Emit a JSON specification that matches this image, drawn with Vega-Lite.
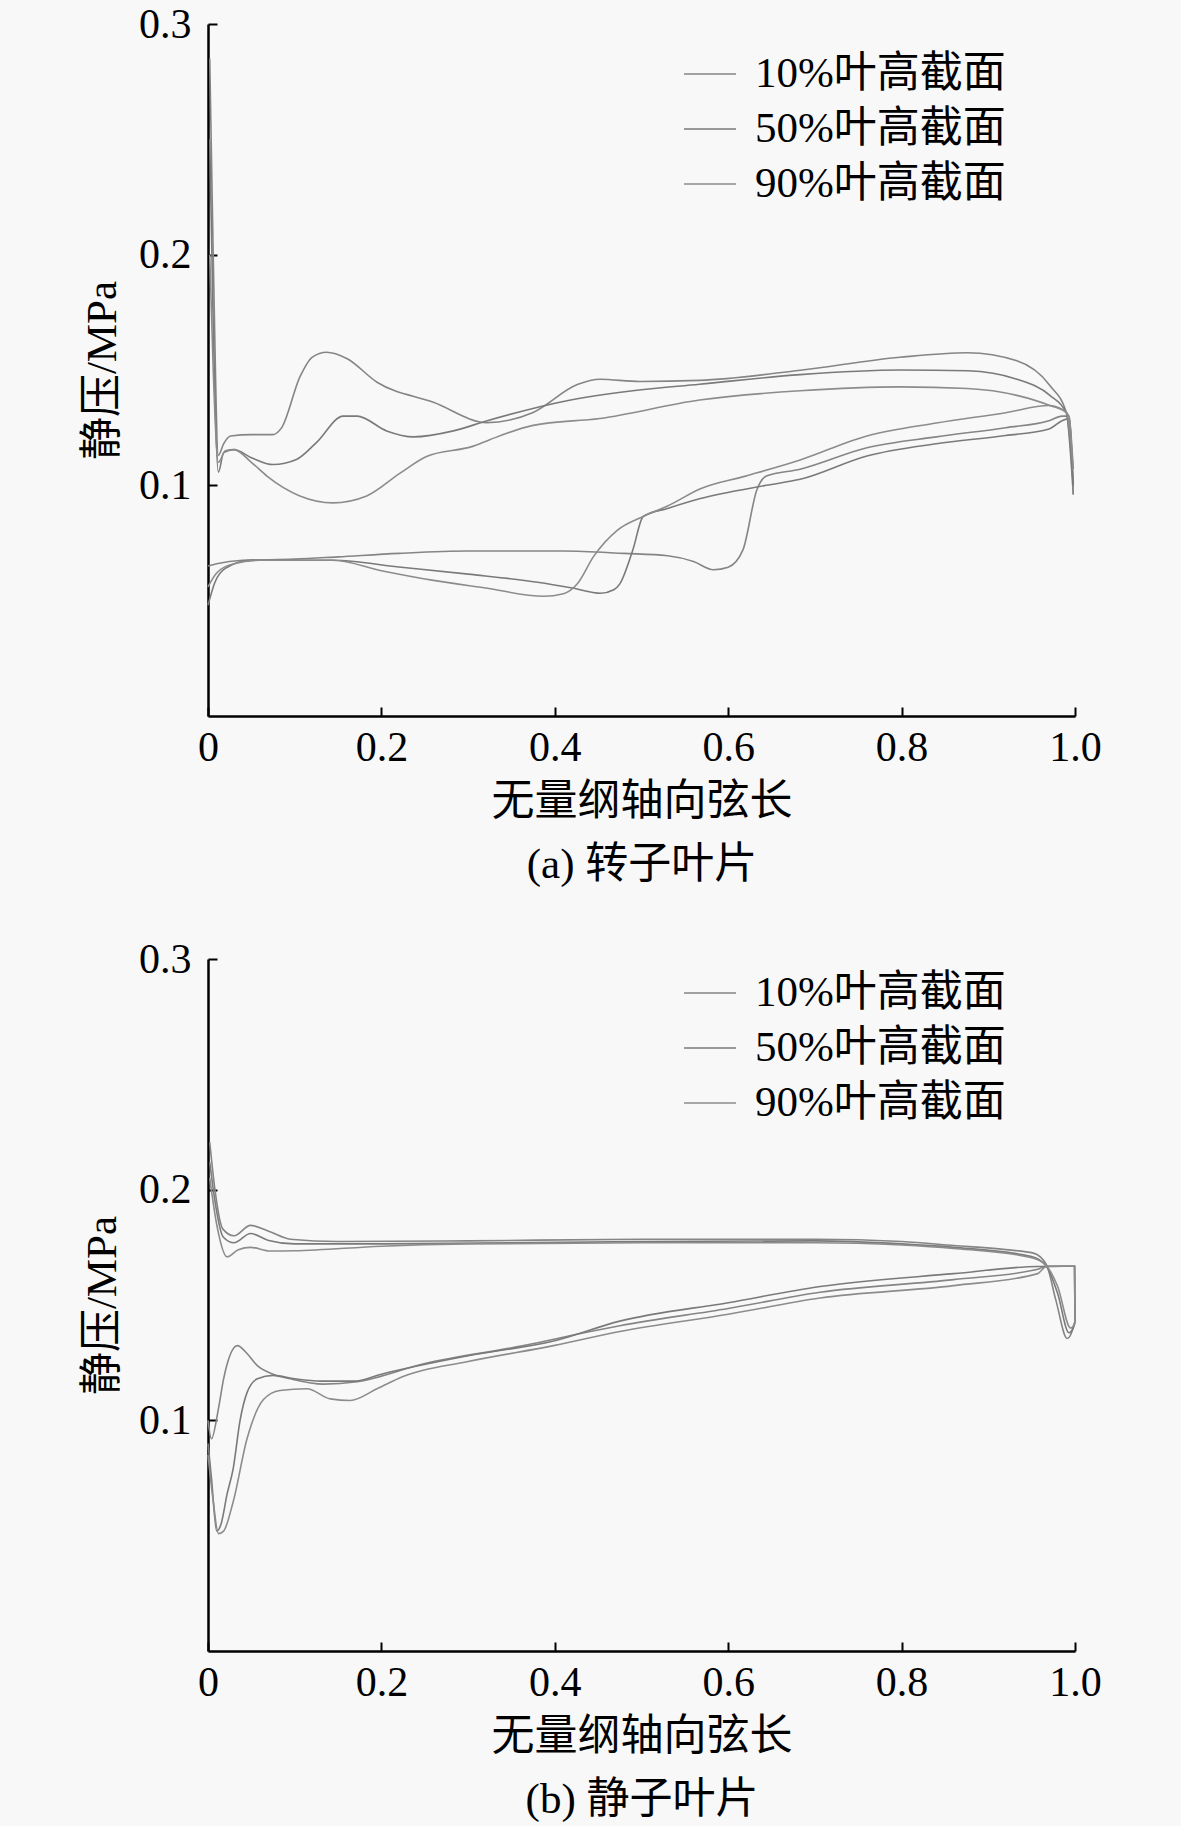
{
  "$schema": "https://vega.github.io/schema/vega-lite/v6.json",
  "background": "#f8f8f8",
  "padding": {"left": 81, "top": 3, "right": 81, "bottom": 5},
  "spacing": 52,
  "datasets": {
    "rotor": [
      {"series": "10%叶高截面", "side": "ps", "x": 0.002, "p": 0.285},
      {"series": "10%叶高截面", "side": "ps", "x": 0.006, "p": 0.2},
      {"series": "10%叶高截面", "side": "ps", "x": 0.012, "p": 0.113},
      {"series": "10%叶高截面", "side": "ps", "x": 0.018, "p": 0.118},
      {"series": "10%叶高截面", "side": "ps", "x": 0.026, "p": 0.1214},
      {"series": "10%叶高截面", "side": "ps", "x": 0.05, "p": 0.122},
      {"series": "10%叶高截面", "side": "ps", "x": 0.075, "p": 0.122},
      {"series": "10%叶高截面", "side": "ps", "x": 0.085, "p": 0.125},
      {"series": "10%叶高截面", "side": "ps", "x": 0.106, "p": 0.147},
      {"series": "10%叶高截面", "side": "ps", "x": 0.12, "p": 0.1555},
      {"series": "10%叶高截面", "side": "ps", "x": 0.137, "p": 0.1577},
      {"series": "10%叶高截面", "side": "ps", "x": 0.16, "p": 0.155},
      {"series": "10%叶高截面", "side": "ps", "x": 0.195, "p": 0.1447},
      {"series": "10%叶高截面", "side": "ps", "x": 0.26, "p": 0.136},
      {"series": "10%叶高截面", "side": "ps", "x": 0.322, "p": 0.1272},
      {"series": "10%叶高截面", "side": "ps", "x": 0.375, "p": 0.1316},
      {"series": "10%叶高截面", "side": "ps", "x": 0.426, "p": 0.1437},
      {"series": "10%叶高截面", "side": "ps", "x": 0.452, "p": 0.146},
      {"series": "10%叶高截面", "side": "ps", "x": 0.498, "p": 0.145},
      {"series": "10%叶高截面", "side": "ps", "x": 0.567, "p": 0.1455},
      {"series": "10%叶高截面", "side": "ps", "x": 0.683, "p": 0.1499},
      {"series": "10%叶高截面", "side": "ps", "x": 0.798, "p": 0.1555},
      {"series": "10%叶高截面", "side": "ps", "x": 0.876, "p": 0.1575},
      {"series": "10%叶高截面", "side": "ps", "x": 0.933, "p": 0.154},
      {"series": "10%叶高截面", "side": "ps", "x": 0.971, "p": 0.1433},
      {"series": "10%叶高截面", "side": "ps", "x": 0.99, "p": 0.1315},
      {"series": "10%叶高截面", "side": "ps", "x": 0.998, "p": 0.096},
      {"series": "10%叶高截面", "side": "ss", "x": 0.0, "p": 0.065},
      {"series": "10%叶高截面", "side": "ss", "x": 0.01, "p": 0.066},
      {"series": "10%叶高截面", "side": "ss", "x": 0.04, "p": 0.0675},
      {"series": "10%叶高截面", "side": "ss", "x": 0.1, "p": 0.068},
      {"series": "10%叶高截面", "side": "ss", "x": 0.15, "p": 0.069},
      {"series": "10%叶高截面", "side": "ss", "x": 0.22, "p": 0.0705},
      {"series": "10%叶高截面", "side": "ss", "x": 0.3, "p": 0.0715},
      {"series": "10%叶高截面", "side": "ss", "x": 0.41, "p": 0.0715},
      {"series": "10%叶高截面", "side": "ss", "x": 0.48, "p": 0.0705},
      {"series": "10%叶高截面", "side": "ss", "x": 0.53, "p": 0.0695},
      {"series": "10%叶高截面", "side": "ss", "x": 0.56, "p": 0.067},
      {"series": "10%叶高截面", "side": "ss", "x": 0.583, "p": 0.0634},
      {"series": "10%叶高截面", "side": "ss", "x": 0.6, "p": 0.0645},
      {"series": "10%叶高截面", "side": "ss", "x": 0.617, "p": 0.072},
      {"series": "10%叶高截面", "side": "ss", "x": 0.633, "p": 0.098},
      {"series": "10%叶高截面", "side": "ss", "x": 0.644, "p": 0.104},
      {"series": "10%叶高截面", "side": "ss", "x": 0.683, "p": 0.107},
      {"series": "10%叶高截面", "side": "ss", "x": 0.76, "p": 0.1163},
      {"series": "10%叶高截面", "side": "ss", "x": 0.84, "p": 0.121},
      {"series": "10%叶高截面", "side": "ss", "x": 0.92, "p": 0.125},
      {"series": "10%叶高截面", "side": "ss", "x": 0.97, "p": 0.128},
      {"series": "10%叶高截面", "side": "ss", "x": 0.985, "p": 0.13},
      {"series": "10%叶高截面", "side": "ss", "x": 0.993, "p": 0.13},
      {"series": "10%叶高截面", "side": "ss", "x": 0.998, "p": 0.096},
      {"series": "50%叶高截面", "side": "ps", "x": 0.002, "p": 0.25},
      {"series": "50%叶高截面", "side": "ps", "x": 0.006, "p": 0.17},
      {"series": "50%叶高截面", "side": "ps", "x": 0.012, "p": 0.1057},
      {"series": "50%叶高截面", "side": "ps", "x": 0.018, "p": 0.1142},
      {"series": "50%叶高截面", "side": "ps", "x": 0.03, "p": 0.1155},
      {"series": "50%叶高截面", "side": "ps", "x": 0.05, "p": 0.112},
      {"series": "50%叶高截面", "side": "ps", "x": 0.075, "p": 0.109},
      {"series": "50%叶高截面", "side": "ps", "x": 0.102, "p": 0.1112},
      {"series": "50%叶高截面", "side": "ps", "x": 0.125, "p": 0.1185},
      {"series": "50%叶高截面", "side": "ps", "x": 0.156, "p": 0.13},
      {"series": "50%叶高截面", "side": "ps", "x": 0.172, "p": 0.13},
      {"series": "50%叶高截面", "side": "ps", "x": 0.206, "p": 0.1236},
      {"series": "50%叶高截面", "side": "ps", "x": 0.237, "p": 0.121},
      {"series": "50%叶高截面", "side": "ps", "x": 0.283, "p": 0.1236},
      {"series": "50%叶高截面", "side": "ps", "x": 0.322, "p": 0.128},
      {"series": "50%叶高截面", "side": "ps", "x": 0.414, "p": 0.1367},
      {"series": "50%叶高截面", "side": "ps", "x": 0.49, "p": 0.141},
      {"series": "50%叶高截面", "side": "ps", "x": 0.567, "p": 0.1438},
      {"series": "50%叶高截面", "side": "ps", "x": 0.683, "p": 0.148},
      {"series": "50%叶高截面", "side": "ps", "x": 0.798, "p": 0.15},
      {"series": "50%叶高截面", "side": "ps", "x": 0.876, "p": 0.1497},
      {"series": "50%叶高截面", "side": "ps", "x": 0.933, "p": 0.146},
      {"series": "50%叶高截面", "side": "ps", "x": 0.971, "p": 0.139},
      {"series": "50%叶高截面", "side": "ps", "x": 0.99, "p": 0.1315},
      {"series": "50%叶高截面", "side": "ps", "x": 0.998, "p": 0.1},
      {"series": "50%叶高截面", "side": "ss", "x": 0.0, "p": 0.048},
      {"series": "50%叶高截面", "side": "ss", "x": 0.008, "p": 0.058},
      {"series": "50%叶高截面", "side": "ss", "x": 0.02, "p": 0.064},
      {"series": "50%叶高截面", "side": "ss", "x": 0.05, "p": 0.0675},
      {"series": "50%叶高截面", "side": "ss", "x": 0.144, "p": 0.0675},
      {"series": "50%叶高截面", "side": "ss", "x": 0.22, "p": 0.0646},
      {"series": "50%叶高截面", "side": "ss", "x": 0.3, "p": 0.0615},
      {"series": "50%叶高截面", "side": "ss", "x": 0.38, "p": 0.058},
      {"series": "50%叶高截面", "side": "ss", "x": 0.42, "p": 0.0555},
      {"series": "50%叶高截面", "side": "ss", "x": 0.453, "p": 0.0532},
      {"series": "50%叶高截面", "side": "ss", "x": 0.468, "p": 0.0547},
      {"series": "50%叶高截面", "side": "ss", "x": 0.475, "p": 0.0573},
      {"series": "50%叶高截面", "side": "ss", "x": 0.49, "p": 0.072},
      {"series": "50%叶高截面", "side": "ss", "x": 0.502, "p": 0.0865},
      {"series": "50%叶高截面", "side": "ss", "x": 0.53, "p": 0.09},
      {"series": "50%叶高截面", "side": "ss", "x": 0.568, "p": 0.0943},
      {"series": "50%叶高截面", "side": "ss", "x": 0.644, "p": 0.1},
      {"series": "50%叶高截面", "side": "ss", "x": 0.683, "p": 0.1026},
      {"series": "50%叶高截面", "side": "ss", "x": 0.76, "p": 0.1127},
      {"series": "50%叶高截面", "side": "ss", "x": 0.84, "p": 0.118},
      {"series": "50%叶高截面", "side": "ss", "x": 0.92, "p": 0.1216},
      {"series": "50%叶高截面", "side": "ss", "x": 0.97, "p": 0.1244},
      {"series": "50%叶高截面", "side": "ss", "x": 0.985, "p": 0.128},
      {"series": "50%叶高截面", "side": "ss", "x": 0.993, "p": 0.129},
      {"series": "50%叶高截面", "side": "ss", "x": 0.998, "p": 0.1},
      {"series": "90%叶高截面", "side": "ps", "x": 0.002, "p": 0.2},
      {"series": "90%叶高截面", "side": "ps", "x": 0.006, "p": 0.15},
      {"series": "90%叶高截面", "side": "ps", "x": 0.012, "p": 0.11},
      {"series": "90%叶高截面", "side": "ps", "x": 0.02, "p": 0.115},
      {"series": "90%叶高截面", "side": "ps", "x": 0.03, "p": 0.1155},
      {"series": "90%叶高截面", "side": "ps", "x": 0.05, "p": 0.11},
      {"series": "90%叶高截面", "side": "ps", "x": 0.068, "p": 0.104},
      {"series": "90%叶高截面", "side": "ps", "x": 0.106, "p": 0.0954},
      {"series": "90%叶高截面", "side": "ps", "x": 0.144, "p": 0.0924},
      {"series": "90%叶高截面", "side": "ps", "x": 0.183, "p": 0.0954},
      {"series": "90%叶高截面", "side": "ps", "x": 0.222, "p": 0.1054},
      {"series": "90%叶高截面", "side": "ps", "x": 0.252, "p": 0.1125},
      {"series": "90%叶高截面", "side": "ps", "x": 0.306, "p": 0.117},
      {"series": "90%叶高截面", "side": "ps", "x": 0.325, "p": 0.1198},
      {"series": "90%叶高截面", "side": "ps", "x": 0.375, "p": 0.126},
      {"series": "90%叶高截面", "side": "ps", "x": 0.452, "p": 0.129},
      {"series": "90%叶高截面", "side": "ps", "x": 0.567, "p": 0.137},
      {"series": "90%叶高截面", "side": "ps", "x": 0.683, "p": 0.141},
      {"series": "90%叶高截面", "side": "ps", "x": 0.798, "p": 0.1427},
      {"series": "90%叶高截面", "side": "ps", "x": 0.876, "p": 0.142},
      {"series": "90%叶高截面", "side": "ps", "x": 0.933, "p": 0.139},
      {"series": "90%叶高截面", "side": "ps", "x": 0.971, "p": 0.1346},
      {"series": "90%叶高截面", "side": "ps", "x": 0.99, "p": 0.1315},
      {"series": "90%叶高截面", "side": "ps", "x": 0.998, "p": 0.107},
      {"series": "90%叶高截面", "side": "ss", "x": 0.0, "p": 0.056},
      {"series": "90%叶高截面", "side": "ss", "x": 0.01, "p": 0.062},
      {"series": "90%叶高截面", "side": "ss", "x": 0.03, "p": 0.066},
      {"series": "90%叶高截面", "side": "ss", "x": 0.06, "p": 0.0675},
      {"series": "90%叶高截面", "side": "ss", "x": 0.144, "p": 0.0675},
      {"series": "90%叶高截面", "side": "ss", "x": 0.2, "p": 0.063},
      {"series": "90%叶高截面", "side": "ss", "x": 0.26, "p": 0.0588},
      {"series": "90%叶高截面", "side": "ss", "x": 0.32, "p": 0.0555},
      {"series": "90%叶高截面", "side": "ss", "x": 0.387, "p": 0.0519},
      {"series": "90%叶高截面", "side": "ss", "x": 0.41, "p": 0.053},
      {"series": "90%叶高截面", "side": "ss", "x": 0.426, "p": 0.0573},
      {"series": "90%叶高截面", "side": "ss", "x": 0.445, "p": 0.0693},
      {"series": "90%叶高截面", "side": "ss", "x": 0.472, "p": 0.0805},
      {"series": "90%叶高截面", "side": "ss", "x": 0.502, "p": 0.0865},
      {"series": "90%叶高截面", "side": "ss", "x": 0.53, "p": 0.091},
      {"series": "90%叶高截面", "side": "ss", "x": 0.568, "p": 0.0985},
      {"series": "90%叶高截面", "side": "ss", "x": 0.62, "p": 0.104},
      {"series": "90%叶高截面", "side": "ss", "x": 0.683, "p": 0.111},
      {"series": "90%叶高截面", "side": "ss", "x": 0.76, "p": 0.1214},
      {"series": "90%叶高截面", "side": "ss", "x": 0.84, "p": 0.127},
      {"series": "90%叶高截面", "side": "ss", "x": 0.92, "p": 0.1315},
      {"series": "90%叶高截面", "side": "ss", "x": 0.97, "p": 0.1346},
      {"series": "90%叶高截面", "side": "ss", "x": 0.985, "p": 0.133},
      {"series": "90%叶高截面", "side": "ss", "x": 0.993, "p": 0.13},
      {"series": "90%叶高截面", "side": "ss", "x": 0.998, "p": 0.107}
    ],
    "stator": [
      {"series": "10%叶高截面", "side": "ps", "x": 0.002, "p": 0.2206},
      {"series": "10%叶高截面", "side": "ps", "x": 0.008, "p": 0.2},
      {"series": "10%叶高截面", "side": "ps", "x": 0.017, "p": 0.183},
      {"series": "10%叶高截面", "side": "ps", "x": 0.03, "p": 0.18},
      {"series": "10%叶高截面", "side": "ps", "x": 0.049, "p": 0.1845},
      {"series": "10%叶高截面", "side": "ps", "x": 0.07, "p": 0.182},
      {"series": "10%叶高截面", "side": "ps", "x": 0.095, "p": 0.1785},
      {"series": "10%叶高截面", "side": "ps", "x": 0.15, "p": 0.1775},
      {"series": "10%叶高截面", "side": "ps", "x": 0.3, "p": 0.1778},
      {"series": "10%叶高截面", "side": "ps", "x": 0.5, "p": 0.1785},
      {"series": "10%叶高截面", "side": "ps", "x": 0.7, "p": 0.1785},
      {"series": "10%叶高截面", "side": "ps", "x": 0.8, "p": 0.1775},
      {"series": "10%叶高截面", "side": "ps", "x": 0.86, "p": 0.1758},
      {"series": "10%叶高截面", "side": "ps", "x": 0.92, "p": 0.174},
      {"series": "10%叶高截面", "side": "ps", "x": 0.952, "p": 0.1725},
      {"series": "10%叶高截面", "side": "ps", "x": 0.967, "p": 0.1675},
      {"series": "10%叶高截面", "side": "ps", "x": 0.978, "p": 0.152},
      {"series": "10%叶高截面", "side": "ps", "x": 0.991, "p": 0.1355},
      {"series": "10%叶高截面", "side": "ps", "x": 0.996, "p": 0.138},
      {"series": "10%叶高截面", "side": "ps", "x": 1.0, "p": 0.143},
      {"series": "10%叶高截面", "side": "ss", "x": 0.0, "p": 0.1},
      {"series": "10%叶高截面", "side": "ss", "x": 0.004, "p": 0.092},
      {"series": "10%叶高截面", "side": "ss", "x": 0.012, "p": 0.105},
      {"series": "10%叶高截面", "side": "ss", "x": 0.018, "p": 0.118},
      {"series": "10%叶高截面", "side": "ss", "x": 0.034, "p": 0.1324},
      {"series": "10%叶高截面", "side": "ss", "x": 0.045, "p": 0.129},
      {"series": "10%叶高截面", "side": "ss", "x": 0.0566, "p": 0.1238},
      {"series": "10%叶高截面", "side": "ss", "x": 0.075, "p": 0.12},
      {"series": "10%叶高截面", "side": "ss", "x": 0.095, "p": 0.118},
      {"series": "10%叶高截面", "side": "ss", "x": 0.133, "p": 0.1157},
      {"series": "10%叶高截面", "side": "ss", "x": 0.172, "p": 0.1167},
      {"series": "10%叶高截面", "side": "ss", "x": 0.249, "p": 0.1245},
      {"series": "10%叶高截面", "side": "ss", "x": 0.364, "p": 0.1324},
      {"series": "10%叶高截面", "side": "ss", "x": 0.441, "p": 0.1385},
      {"series": "10%叶高截面", "side": "ss", "x": 0.475, "p": 0.141},
      {"series": "10%叶高截面", "side": "ss", "x": 0.6, "p": 0.1485},
      {"series": "10%叶高截面", "side": "ss", "x": 0.706, "p": 0.1555},
      {"series": "10%叶高截面", "side": "ss", "x": 0.86, "p": 0.161},
      {"series": "10%叶高截面", "side": "ss", "x": 0.957, "p": 0.1655},
      {"series": "10%叶高截面", "side": "ss", "x": 0.967, "p": 0.1668},
      {"series": "10%叶高截面", "side": "ss", "x": 0.9995, "p": 0.1668},
      {"series": "10%叶高截面", "side": "ss", "x": 1.0, "p": 0.143},
      {"series": "50%叶高截面", "side": "ps", "x": 0.002, "p": 0.212},
      {"series": "50%叶高截面", "side": "ps", "x": 0.008, "p": 0.195},
      {"series": "50%叶高截面", "side": "ps", "x": 0.0175, "p": 0.1795},
      {"series": "50%叶高截面", "side": "ps", "x": 0.03, "p": 0.177},
      {"series": "50%叶高截面", "side": "ps", "x": 0.049, "p": 0.181},
      {"series": "50%叶高截面", "side": "ps", "x": 0.07, "p": 0.178},
      {"series": "50%叶高截面", "side": "ps", "x": 0.1, "p": 0.1765},
      {"series": "50%叶高截面", "side": "ps", "x": 0.2, "p": 0.1765},
      {"series": "50%叶高截面", "side": "ps", "x": 0.5, "p": 0.1775},
      {"series": "50%叶高截面", "side": "ps", "x": 0.7, "p": 0.1778},
      {"series": "50%叶高截面", "side": "ps", "x": 0.8, "p": 0.1765},
      {"series": "50%叶高截面", "side": "ps", "x": 0.86, "p": 0.175},
      {"series": "50%叶高截面", "side": "ps", "x": 0.95, "p": 0.171},
      {"series": "50%叶高截面", "side": "ps", "x": 0.967, "p": 0.1668},
      {"series": "50%叶高截面", "side": "ps", "x": 0.98, "p": 0.155},
      {"series": "50%叶高截面", "side": "ps", "x": 0.993, "p": 0.138},
      {"series": "50%叶高截面", "side": "ps", "x": 0.998, "p": 0.14},
      {"series": "50%叶高截面", "side": "ps", "x": 1.0, "p": 0.143},
      {"series": "50%叶高截面", "side": "ss", "x": 0.0, "p": 0.09},
      {"series": "50%叶高截面", "side": "ss", "x": 0.004, "p": 0.075},
      {"series": "50%叶高截面", "side": "ss", "x": 0.01, "p": 0.052},
      {"series": "50%叶高截面", "side": "ss", "x": 0.015, "p": 0.055},
      {"series": "50%叶高截面", "side": "ss", "x": 0.022, "p": 0.068},
      {"series": "50%叶高截面", "side": "ss", "x": 0.029, "p": 0.079},
      {"series": "50%叶高截面", "side": "ss", "x": 0.037, "p": 0.1},
      {"series": "50%叶高截面", "side": "ss", "x": 0.045, "p": 0.112},
      {"series": "50%叶高截面", "side": "ss", "x": 0.057, "p": 0.118},
      {"series": "50%叶高截面", "side": "ss", "x": 0.075, "p": 0.1195},
      {"series": "50%叶高截面", "side": "ss", "x": 0.1, "p": 0.118},
      {"series": "50%叶高截面", "side": "ss", "x": 0.13, "p": 0.117},
      {"series": "50%叶高截面", "side": "ss", "x": 0.17, "p": 0.117},
      {"series": "50%叶高截面", "side": "ss", "x": 0.2, "p": 0.12},
      {"series": "50%叶高截面", "side": "ss", "x": 0.3, "p": 0.128},
      {"series": "50%叶高截面", "side": "ss", "x": 0.4, "p": 0.1345},
      {"series": "50%叶高截面", "side": "ss", "x": 0.475, "p": 0.143},
      {"series": "50%叶高截面", "side": "ss", "x": 0.6, "p": 0.151},
      {"series": "50%叶高截面", "side": "ss", "x": 0.706, "p": 0.158},
      {"series": "50%叶高截面", "side": "ss", "x": 0.86, "p": 0.1636},
      {"series": "50%叶高截面", "side": "ss", "x": 0.957, "p": 0.1667},
      {"series": "50%叶高截面", "side": "ss", "x": 0.9995, "p": 0.1668},
      {"series": "50%叶高截面", "side": "ss", "x": 1.0, "p": 0.143},
      {"series": "90%叶高截面", "side": "ps", "x": 0.002, "p": 0.205},
      {"series": "90%叶高截面", "side": "ps", "x": 0.01, "p": 0.185},
      {"series": "90%叶高截面", "side": "ps", "x": 0.022, "p": 0.1709},
      {"series": "90%叶高截面", "side": "ps", "x": 0.035, "p": 0.174},
      {"series": "90%叶高截面", "side": "ps", "x": 0.049, "p": 0.175},
      {"series": "90%叶高截面", "side": "ps", "x": 0.072, "p": 0.1734},
      {"series": "90%叶高截面", "side": "ps", "x": 0.1, "p": 0.1735},
      {"series": "90%叶高截面", "side": "ps", "x": 0.2, "p": 0.1755},
      {"series": "90%叶高截面", "side": "ps", "x": 0.3, "p": 0.1765},
      {"series": "90%叶高截面", "side": "ps", "x": 0.5, "p": 0.177},
      {"series": "90%叶高截面", "side": "ps", "x": 0.7, "p": 0.177},
      {"series": "90%叶高截面", "side": "ps", "x": 0.8, "p": 0.176},
      {"series": "90%叶高截面", "side": "ps", "x": 0.86, "p": 0.1745},
      {"series": "90%叶高截面", "side": "ps", "x": 0.95, "p": 0.1705},
      {"series": "90%叶高截面", "side": "ps", "x": 0.967, "p": 0.167},
      {"series": "90%叶高截面", "side": "ps", "x": 0.98, "p": 0.158},
      {"series": "90%叶高截面", "side": "ps", "x": 0.995, "p": 0.14},
      {"series": "90%叶高截面", "side": "ps", "x": 1.0, "p": 0.142},
      {"series": "90%叶高截面", "side": "ss", "x": 0.0, "p": 0.085},
      {"series": "90%叶高截面", "side": "ss", "x": 0.006, "p": 0.065},
      {"series": "90%叶高截面", "side": "ss", "x": 0.012, "p": 0.0509},
      {"series": "90%叶高截面", "side": "ss", "x": 0.018, "p": 0.052},
      {"series": "90%叶高截面", "side": "ss", "x": 0.029, "p": 0.0646},
      {"series": "90%叶高截面", "side": "ss", "x": 0.045, "p": 0.092},
      {"series": "90%叶高截面", "side": "ss", "x": 0.064, "p": 0.109},
      {"series": "90%叶高截面", "side": "ss", "x": 0.083, "p": 0.1129},
      {"series": "90%叶高截面", "side": "ss", "x": 0.114, "p": 0.1137},
      {"series": "90%叶高截面", "side": "ss", "x": 0.141, "p": 0.1093},
      {"series": "90%叶高截面", "side": "ss", "x": 0.164, "p": 0.1086},
      {"series": "90%叶高截面", "side": "ss", "x": 0.195, "p": 0.1137},
      {"series": "90%叶高截面", "side": "ss", "x": 0.225, "p": 0.119},
      {"series": "90%叶高截面", "side": "ss", "x": 0.3, "p": 0.1255},
      {"series": "90%叶高截面", "side": "ss", "x": 0.4, "p": 0.1325},
      {"series": "90%叶高截面", "side": "ss", "x": 0.475, "p": 0.1385},
      {"series": "90%叶高截面", "side": "ss", "x": 0.6, "p": 0.146},
      {"series": "90%叶高截面", "side": "ss", "x": 0.706, "p": 0.153},
      {"series": "90%叶高截面", "side": "ss", "x": 0.86, "p": 0.1584},
      {"series": "90%叶高截面", "side": "ss", "x": 0.957, "p": 0.1636},
      {"series": "90%叶高截面", "side": "ss", "x": 0.967, "p": 0.1667},
      {"series": "90%叶高截面", "side": "ss", "x": 0.9995, "p": 0.1668},
      {"series": "90%叶高截面", "side": "ss", "x": 1.0, "p": 0.142}
    ]
  },
  "config": {
    "font": "Liberation Serif, Noto Sans CJK SC",
    "view": {"stroke": null},
    "axis": {
      "grid": false,
      "domainColor": "#000000",
      "domainWidth": 2.5,
      "tickColor": "#000000",
      "tickWidth": 2,
      "tickSize": -9,
      "labelFontSize": 42,
      "labelColor": "#000000",
      "titleFontSize": 43,
      "titleFontWeight": "normal",
      "titleColor": "#000000"
    },
    "legend": {
      "orient": "none",
      "title": null,
      "padding": 0,
      "symbolType": "stroke",
      "symbolSize": 2700,
      "symbolStrokeWidth": 1.6,
      "labelFontSize": 43,
      "labelColor": "#000000",
      "labelLimit": 0,
      "labelOffset": 18,
      "rowPadding": 6
    }
  },
  "resolve": {"scale": {"color": "independent"}, "legend": {"color": "independent"}},
  "vconcat": [
    {
      "width": 867,
      "height": 692,
      "data": {"name": "rotor"},
      "mark": {"type": "line", "interpolate": "monotone", "strokeWidth": 1.6},
      "encoding": {
        "x": {
          "field": "x",
          "type": "quantitative",
          "scale": {"domain": [0, 1], "nice": false},
          "axis": {
            "values": [0, 0.2, 0.4, 0.6, 0.8, 1],
            "labelExpr": "datum.value === 0 ? '0' : format(datum.value, '.1f')",
            "labelFlush": false,
            "labelPadding": 20,
            "title": ["无量纲轴向弦长", "(a) 转子叶片"],
            "titleLineHeight": 63,
            "titlePadding": 12
          }
        },
        "y": {
          "field": "p",
          "type": "quantitative",
          "scale": {"domain": [0, 0.3], "nice": false},
          "axis": {
            "values": [0.1, 0.2, 0.3],
            "format": ".1f",
            "labelPadding": 26,
            "title": "静压/MPa",
            "titlePadding": 14
          }
        },
        "color": {
          "field": "series",
          "type": "nominal",
          "scale": {"range": ["#858585", "#7a7a7a", "#8c8c8c"]},
          "legend": {"legendX": 475, "legendY": 23}
        },
        "detail": {"field": "side"}
      }
    },
    {
      "width": 867,
      "height": 692,
      "data": {"name": "stator"},
      "mark": {"type": "line", "interpolate": "monotone", "strokeWidth": 1.6},
      "encoding": {
        "x": {
          "field": "x",
          "type": "quantitative",
          "scale": {"domain": [0, 1], "nice": false},
          "axis": {
            "values": [0, 0.2, 0.4, 0.6, 0.8, 1],
            "labelExpr": "datum.value === 0 ? '0' : format(datum.value, '.1f')",
            "labelFlush": false,
            "labelPadding": 20,
            "title": ["无量纲轴向弦长", "(b) 静子叶片"],
            "titleLineHeight": 63,
            "titlePadding": 12
          }
        },
        "y": {
          "field": "p",
          "type": "quantitative",
          "scale": {"domain": [0, 0.3], "nice": false},
          "axis": {
            "values": [0.1, 0.2, 0.3],
            "format": ".1f",
            "labelPadding": 26,
            "title": "静压/MPa",
            "titlePadding": 14
          }
        },
        "color": {
          "field": "series",
          "type": "nominal",
          "scale": {"range": ["#858585", "#7a7a7a", "#8c8c8c"]},
          "legend": {"legendX": 475, "legendY": 7}
        },
        "detail": {"field": "side"}
      }
    }
  ]
}
